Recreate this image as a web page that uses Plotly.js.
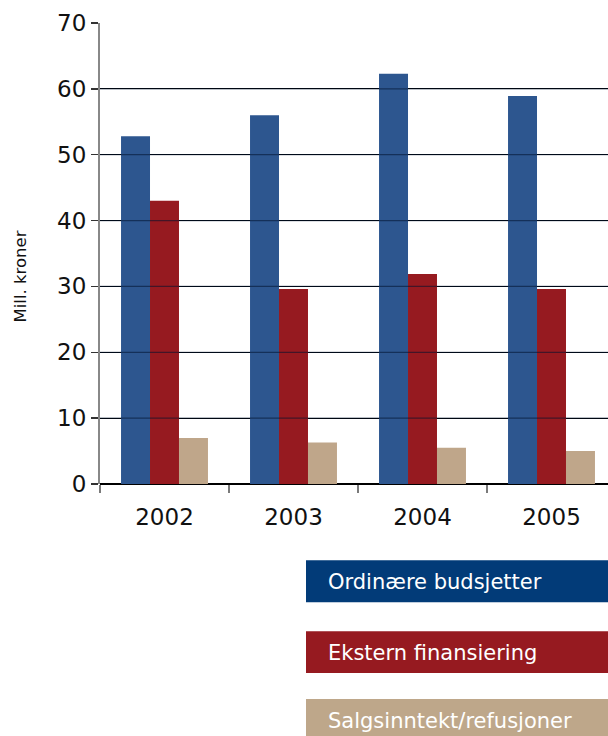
<!DOCTYPE html>
<html>
<head>
<meta charset="utf-8">
<script src="https://cdn.plot.ly/plotly-3.0.1.min.js"></script>
<style>
  html, body { margin: 0; padding: 0; background: #fff; }
  #chart { width: 608px; height: 736px; }
</style>
</head>
<body>
<div id="chart"></div>
<script>
// Budget sources per year, million NOK
const years = ['2002', '2003', '2004', '2005'];
const seriesNames = ['Ordinære budsjetter', 'Ekstern finansiering', 'Salgsinntekt/refusjoner'];
const ordinaere = [52.8, 56.0, 62.3, 58.9];
const ekstern = [43.0, 29.6, 31.9, 29.6];
const salg = [7.0, 6.3, 5.5, 5.0];
const yTicks = [0, 10, 20, 30, 40, 50, 60, 70];
const yTitle = 'Mill. kroner';

const barColors = ['#2d568f', '#961a20', '#bfa68a'];
const keyColors = ['#023b78', '#961a20', '#bea78a'];

const W = 608, H = 736;
const M = { l: 100, r: 0, t: 22.5, b: 251.5 };
const plotW = W - M.l - M.r;
const plotH = H - M.t - M.b;
const catW = 129; // pixel width of one year slot

const values = [ordinaere, ekstern, salg];
const traces = values.map((v, i) => ({
  type: 'bar',
  x: years,
  y: v,
  name: seriesNames[i],
  marker: { color: barColors[i], line: { width: 0 } },
  hoverinfo: 'x+y+name'
}));

// pixel -> paper helpers for the colour-key blocks below the plot
const px = x => (x - M.l) / plotW;
const py = y => (M.t + plotH - y) / plotH;

const keyRows = [
  { top: 561, bottom: 603 },
  { top: 632, bottom: 674 },
  { top: 700, bottom: 742 }
];

const shapes = [];
const annotations = [];
keyRows.forEach((r, i) => {
  shapes.push({
    type: 'rect', xref: 'paper', yref: 'paper',
    x0: px(306), x1: px(612), y0: py(r.bottom), y1: py(r.top),
    fillcolor: keyColors[i], line: { width: 0 }, layer: 'above'
  });
  annotations.push({
    xref: 'paper', yref: 'paper',
    x: px(326), y: py((r.top + r.bottom) / 2 + 1),
    xanchor: 'left', yanchor: 'middle', showarrow: false,
    text: seriesNames[i],
    font: { family: 'DejaVu Sans', size: 21, color: '#ffffff' }
  });
});

// vertical unit label, sitting a little below the axis middle
annotations.push({
  xref: 'paper', yref: 'paper',
  x: px(20), y: py(276.5),
  xanchor: 'center', yanchor: 'middle', showarrow: false,
  textangle: -90,
  text: yTitle,
  font: { family: 'DejaVu Sans', size: 16.5, color: '#111' }
});

// grid lines show faintly through the bars
yTicks.slice(1, -1).forEach(t => {
  shapes.push({
    type: 'line', xref: 'paper', yref: 'y',
    x0: 0, x1: 1, y0: t, y1: t,
    line: { color: 'rgba(0,18,45,0.55)', width: 1.2 }, layer: 'above'
  });
});

const layout = {
  width: W, height: H,
  margin: M,
  paper_bgcolor: '#ffffff',
  plot_bgcolor: '#ffffff',
  showlegend: false,
  barmode: 'group',
  bargap: 0.326,
  bargroupgap: 0,
  font: { family: 'DejaVu Sans', color: '#111' },
  xaxis: {
    type: 'category',
    range: [-0.5, -0.5 + plotW / catW],
    tickson: 'boundaries',
    ticks: 'outside', ticklen: 8, tickwidth: 2, tickcolor: '#7a7a7a',
    ticklabelstandoff: 17,
    showline: false, showgrid: false, zeroline: false,
    tickfont: { family: 'DejaVu Sans', size: 23, color: '#111' },
    fixedrange: true
  },
  yaxis: {
    range: [0, 70],
    tickvals: yTicks,
    ticktext: yTicks.map(String),
    ticks: 'outside', ticklen: 7, tickwidth: 1.5, tickcolor: '#333',
    showline: true, linecolor: '#888', linewidth: 2,
    showgrid: true, gridcolor: '#000', gridwidth: 1.2,
    zeroline: true, zerolinecolor: '#000', zerolinewidth: 1.5,
    tickfont: { family: 'DejaVu Sans', size: 23, color: '#111' },
    fixedrange: true
  },
  shapes: shapes,
  annotations: annotations
};

Plotly.newPlot('chart', traces, layout, { staticPlot: true, displayModeBar: false });
</script>
</body>
</html>
